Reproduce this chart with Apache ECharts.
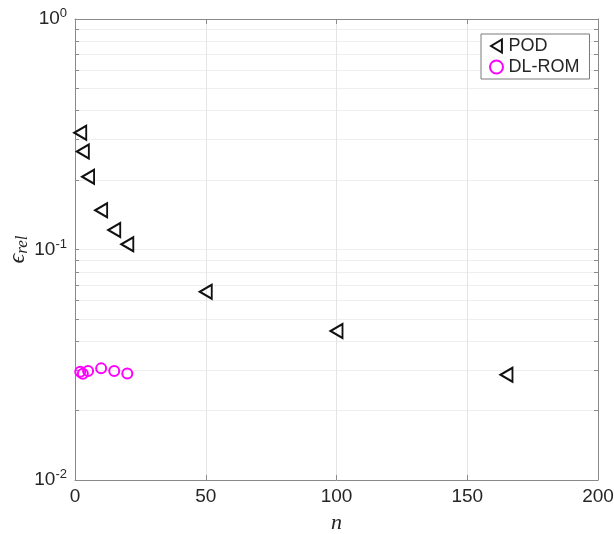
<!DOCTYPE html>
<html>
<head>
<meta charset="utf-8">
<script src="https://cdn.jsdelivr.net/npm/echarts@6/dist/echarts.min.js"></script>
<style>html,body{margin:0;padding:0;background:#fff;}#c{width:614px;height:534px;}</style>
</head>
<body>
<div id="c"></div>
<script>
// ---- data ----
const nPOD = [2, 3, 5, 10, 15, 20, 50, 100, 165];
const errPOD = [0.321, 0.266, 0.207, 0.148, 0.1215, 0.1054, 0.0656, 0.0443, 0.0286];
const nDL = [2, 3, 5, 10, 15, 20];
const errDL = [0.0295, 0.0289, 0.0297, 0.0305, 0.0297, 0.029];
const seriesNames = ['POD', 'DL-ROM'];
const xTicks = [0, 50, 100, 150, 200];
const yMajor = [0.01, 0.1, 1];
const yMinor = [0.01, 0.02, 0.03, 0.04, 0.05, 0.06, 0.07, 0.08, 0.09, 0.1,
                0.2, 0.3, 0.4, 0.5, 0.6, 0.7, 0.8, 0.9, 1];

const FONT = 'Liberation Sans, Arial, Helvetica, sans-serif';
const SERIF = 'Liberation Serif, DejaVu Serif, serif';
const AXC = '#8a8a8a';
const TXT = '#262626';

const pod = nPOD.map((n, i) => [n, errPOD[i]]);
const dl = nDL.map((n, i) => [n, errDL[i]]);

const chart = echarts.init(document.getElementById('c'), null, {renderer: 'canvas'});
const xBase = {
  type: 'value', min: xTicks[0], max: xTicks[xTicks.length - 1], interval: 50,
  axisLine: {show: true, onZero: false, lineStyle: {color: AXC, width: 1}},
  axisTick: {show: true, inside: true, length: 5, lineStyle: {color: AXC}}
};
const yBase = {
  type: 'log', logBase: 10, min: 0.01, max: 1,
  axisLine: {show: true, onZero: false, lineStyle: {color: AXC, width: 1}},
  axisTick: {show: true, inside: true, length: 4, customValues: yMinor, lineStyle: {color: AXC}}
};
chart.setOption({
  animation: false,
  backgroundColor: '#fff',
  grid: {left: 75, right: 16, top: 19, bottom: 54, containLabel: false, outerBoundsMode: 'none'},
  legend: {
    data: [
      {name: seriesNames[0]},
      {name: seriesNames[1]}
    ],
    orient: 'vertical', left: 481, top: 34,
    backgroundColor: '#fff', borderColor: '#7a7a7a', borderWidth: 1,
    padding: [3, 10, 3, 8], itemGap: 3, itemWidth: 14, itemHeight: 13,
    textStyle: {fontFamily: FONT, fontSize: 18, color: TXT}
  },
  xAxis: [
    Object.assign({}, xBase, {
      position: 'bottom',
      name: 'n', nameLocation: 'middle', nameGap: 32, nameMoveOverlap: false,
      nameTextStyle: {fontFamily: SERIF, fontStyle: 'italic', fontSize: 22, color: TXT},
      axisLabel: {show: true, margin: 7, fontFamily: FONT, fontSize: 19, color: TXT},
      splitLine: {show: true, lineStyle: {color: '#e4e4e4', width: 1}}
    }),
    Object.assign({}, xBase, {
      position: 'top', axisLabel: {show: false}, splitLine: {show: false}
    })
  ],
  yAxis: [
    Object.assign({}, yBase, {
      position: 'left',
      name: '{e|ϵ}{r|rel}', nameLocation: 'middle', nameGap: 44, nameRotate: 90,
      nameMoveOverlap: false,
      nameTextStyle: {
        rich: {
          e: {fontFamily: SERIF, fontStyle: 'italic', fontSize: 24, color: TXT},
          r: {fontFamily: SERIF, fontStyle: 'italic', fontSize: 17, color: TXT, padding: [10, 0, 0, 0]}
        }
      },
      axisLabel: {
        show: true, margin: 8, customValues: yMajor,
        formatter: v => '{b|10}{s|' + Math.round(Math.log10(v)) + '}',
        rich: {
          b: {fontFamily: FONT, fontSize: 19, color: TXT, lineHeight: 24},
          s: {fontFamily: FONT, fontSize: 13, color: TXT, verticalAlign: 'top', lineHeight: 13}
        }
      },
      splitLine: {show: true, lineStyle: {color: '#eeeeee', width: 1}}
    }),
    Object.assign({}, yBase, {
      position: 'right', axisLabel: {show: false}, splitLine: {show: false}
    })
  ],
  series: [
    {
      name: seriesNames[0], type: 'scatter', data: pod,
      symbol: 'path://M10,0 L10,12 L0,6 Z', symbolSize: [12, 14],
      itemStyle: {color: 'rgba(0,0,0,0)', borderColor: '#111', borderWidth: 2, opacity: 1},
      z: 5
    },
    {
      name: seriesNames[1], type: 'scatter', data: dl,
      symbol: 'circle', symbolSize: 10,
      itemStyle: {color: 'rgba(0,0,0,0)', borderColor: '#ff00ff', borderWidth: 2, opacity: 1},
      z: 5
    }
  ]
});
</script>
</body>
</html>
